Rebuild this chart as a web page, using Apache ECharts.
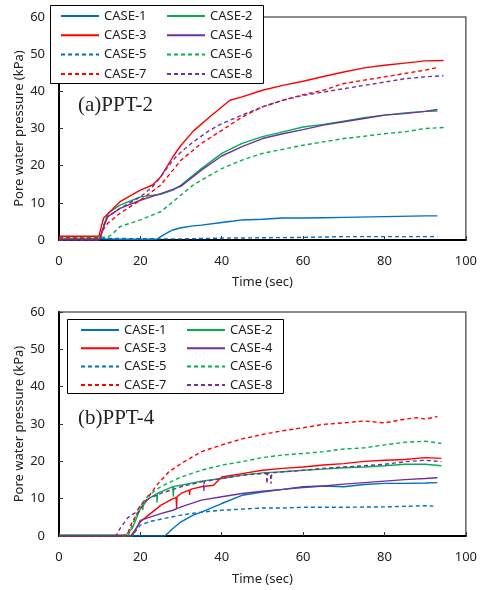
<!DOCTYPE html>
<html><head><meta charset="utf-8">
<script src="https://cdn.jsdelivr.net/npm/echarts@6/dist/echarts.min.js"></script>
<style>html,body{margin:0;padding:0;background:#fff}#c{width:480px;height:590px}</style>
</head><body><div id="c"></div>
<script>
// ---------- DATA ----------
const caseNames = ['CASE-1','CASE-2','CASE-3','CASE-4','CASE-5','CASE-6','CASE-7','CASE-8'];
const panelLabels = ['(a)PPT-2','(b)PPT-4'];
const xTicks = [0,20,40,60,80,100];
const yTicks = [0,10,20,30,40,50,60];

// (a) PPT-2  : [time (sec), pore water pressure (kPa)]
const a_case1 = [[0,0.3],[10,0.3],[15,0.2],[20,0.2],[24,0.2],[25,0.9],[27,2.2],[28,2.7],[30,3.3],[33,3.8],[35,4],[40,4.7],[43,5.1],[45,5.4],[50,5.6],[55,5.9],[60,5.9],[65,6],[70,6.1],[80,6.3],[90,6.5],[93,6.5]];
const a_case2 = [[0,0.5],[10,0.5],[10.8,3],[11.5,5.5],[12,7.2],[15,9.4],[18,10.7],[20,11.6],[25,12.3],[28,13.4],[30,14.8],[35,19.2],[40,23.3],[45,26],[50,27.8],[55,29.1],[60,30.4],[65,31.1],[70,32],[75,32.9],[80,33.6],[85,34.2],[90,34.6],[93,34.7]];
const a_case3 = [[0,1],[9.8,1],[10.5,4],[11,6],[12,7],[15,10.3],[20,13.4],[23,14.8],[25,17],[28,22.4],[30,25.5],[33,29.3],[37,33.1],[40,35.8],[42,37.6],[45,38.5],[50,40.3],[55,41.6],[60,42.7],[65,44],[70,45.2],[75,46.3],[80,47],[85,47.6],[90,48.2],[94.5,48.3]];
const a_case4 = [[0,0],[10,0],[10.8,3],[11.5,5],[12,6.3],[15,8.5],[20,10.7],[25,12.5],[28,13.6],[30,14.5],[35,18.8],[40,22.6],[45,25.1],[50,27.3],[55,28.6],[60,29.7],[65,30.9],[70,31.8],[75,32.7],[80,33.6],[85,34],[90,34.6],[93,35.1]];
const a_case5 = [[0,0.5],[10,0.5],[15,0.4],[25,0.3],[30,0.3],[40,0.5],[50,0.6],[60,0.7],[70,0.9],[93,0.9]];
const a_case6 = [[0,0.5],[12,0.8],[13,1.5],[15,3.6],[20,5.4],[25,7.6],[28,10.3],[30,12.1],[33,14.8],[35,16.1],[40,19.2],[45,21.5],[50,23.3],[55,24.4],[60,25.5],[65,26.4],[70,27.3],[75,27.9],[80,28.6],[85,29.1],[90,30],[95,30.3]];
const a_case7 = [[0,0.5],[10,0.5],[11,3],[12,4.5],[15,7.2],[20,10.7],[25,14.8],[28,18.8],[30,21.5],[35,26],[40,29.5],[45,33.1],[50,35.8],[55,37.6],[60,39.1],[65,40.3],[70,42.1],[75,43],[80,43.9],[85,44.8],[90,45.7],[93,46.4]];
const a_case8 = [[0,0],[10,0],[11,4],[12,6.3],[15,8.5],[20,11.6],[23,14.3],[25,17],[28,21.5],[30,23.7],[33,26.4],[37,29.5],[40,31.3],[45,33.6],[50,35.8],[55,37.6],[60,38.9],[65,39.8],[70,40.7],[75,41.6],[80,42.5],[85,43.4],[90,43.9],[94.5,44.2]];

// (b) PPT-4
const b_case1 = [[0,0],[26,0],[27,1],[28,2],[30,3.8],[33,5.6],[35,6.4],[40,8.7],[45,10.9],[50,11.8],[55,12.5],[60,13],[65,13.4],[70,13.2],[75,13.8],[80,14.1],[85,14.1],[90,14.2],[93,14.3]];
const b_case2 = [[0,0.3],[16.5,0.3],[18,2],[20,7.3],[20.5,8],[20.6,7],[20.7,8.2],[22,10],[24,11.3],[24.1,9],[24.2,11.4],[25,11.8],[28,13.2],[28.1,10.5],[28.2,13.3],[30,13.6],[35,14.7],[40,15.4],[45,16.3],[50,16.9],[55,17.2],[60,17.6],[65,17.9],[70,18.3],[75,18.5],[80,18.8],[85,19.2],[90,19.2],[94,18.8]];
const b_case3 = [[0,0],[17.5,0],[18,0.5],[20,3.8],[22,5.6],[25,8.2],[28,10],[28.8,10.3],[28.9,7.5],[29,10.5],[30,11.4],[32,12.3],[32.1,11],[32.2,12.4],[33,12.7],[35,13.2],[38,13.6],[40,15.8],[45,16.7],[50,17.6],[55,18.1],[60,18.5],[65,19],[70,19.4],[75,20],[80,20.3],[85,20.5],[90,21],[94,20.8]];
const b_case4 = [[0,0],[18,0],[19,2],[20,4.2],[25,6],[28,6.9],[30,7.8],[35,9.6],[40,10.5],[45,11.4],[50,12],[55,12.5],[60,13.2],[65,13.4],[70,13.9],[75,14.3],[80,14.7],[85,15.1],[90,15.4],[93,15.6]];
const b_case5 = [[0,0],[18,0],[19,1.5],[20,2.9],[22,3.8],[25,4.5],[30,5.6],[35,6.4],[40,6.9],[45,7.2],[50,7.5],[55,7.5],[60,7.7],[70,7.7],[80,7.8],[90,8.1],[92,8]];
const b_case6 = [[0,0],[17,0],[18,3],[20,8.2],[22,10.9],[25,13.2],[30,15.8],[35,17.6],[40,19],[45,19.9],[50,21],[55,21.7],[60,22.1],[65,22.6],[70,23.3],[75,23.6],[80,24.4],[85,25.1],[90,25.4],[94,24.8]];
const b_case7 = [[0,0],[16,0],[17,1],[18,3.8],[20,7.3],[22,10.5],[24,13.6],[27,17.2],[30,19.4],[35,22.6],[40,24.4],[45,26],[50,27.2],[55,28.2],[60,29],[65,29.9],[70,30.3],[75,30.8],[80,30.3],[85,31.3],[88,31.7],[90,31.3],[93,32]];
const b_case8 = [[0,0],[14,0],[15,2],[17,5],[19,6.4],[20,8.2],[22,10],[25,11.4],[30,13.2],[35,14.5],[35.5,14.6],[35.6,12],[35.7,14.6],[40,15.4],[45,16.3],[50,16.7],[51,16.8],[51.1,14],[51.3,16.8],[52,16.8],[52.1,14],[52.3,16.9],[55,17.2],[60,17.6],[65,18.1],[70,18.5],[75,18.8],[80,19.2],[85,19.9],[90,20.3],[94,19.9]];

// ---------- STYLE ----------
const colors = ['#0070C0','#00B050','#FF0000','#7030A0','#0070C0','#00B050','#FF0000','#7030A0'];
const dashed = [false,false,false,false,true,true,true,true];
const FONT = 'Noto Sans';
const panels = [
  [a_case1,a_case2,a_case3,a_case4,a_case5,a_case6,a_case7,a_case8],
  [b_case1,b_case2,b_case3,b_case4,b_case5,b_case6,b_case7,b_case8]
];
const grids = [
  {left:59, top:17, width:407, height:223},
  {left:59, top:312, width:407, height:224}
];

const series = [];
panels.forEach((pd, gi) => {
  pd.forEach((d, i) => {
    series.push({
      name: caseNames[i], type:'line', xAxisIndex: gi, yAxisIndex: gi,
      data: d, symbol:'none', showSymbol:false, animation:false,
      lineStyle:{color:colors[i], width:1.4, type: dashed[i] ? [4,3] : 'solid'},
      itemStyle:{color:colors[i]}
    });
  });
});

function axisX(gi, gap){
  return {type:'value', gridIndex:gi, min:0, max:100, interval:20,
    name:'Time (sec)', nameLocation:'middle', nameGap:gap, nameMoveOverlap:false,
    nameTextStyle:{fontFamily:FONT, fontSize:13, color:'#222'},
    axisLine:{show:true, onZero:false, lineStyle:{color:'#000', width:2}},
    axisTick:{show:true, inside:true, length:4, lineStyle:{color:'#333'}},
    axisLabel:{margin:15, fontFamily:FONT, fontSize:13, color:'#222'},
    splitLine:{show:false}};
}
function axisY(gi){
  return {type:'value', gridIndex:gi, min:0, max:60, interval:10,
    name:'Pore water pressure (kPa)', nameLocation:'middle', nameGap:33, nameMoveOverlap:false,
    nameTextStyle:{fontFamily:FONT, fontSize:13, color:'#222'},
    axisLine:{show:true, onZero:false, lineStyle:{color:'#000', width:2}},
    axisTick:{show:true, inside:true, length:4, lineStyle:{color:'#333'}},
    axisLabel:{margin:14, fontFamily:FONT, fontSize:13, color:'#222'},
    splitLine:{show:false}};
}
function legend(names, left, top, gap){
  return {orient:'vertical', left:left, top:top, padding:0, itemGap:gap,
    itemWidth:38, itemHeight:14, data:names, z:5,
    textStyle:{fontFamily:FONT, fontSize:13, color:'#222', lineHeight:14},
    itemStyle:{opacity:0, borderWidth:0},
    lineStyle:{width:2}};
}
const col1 = [caseNames[0],caseNames[2],caseNames[4],caseNames[6]];
const col2 = [caseNames[1],caseNames[3],caseNames[5],caseNames[7]];

const option = {
  backgroundColor:'#fff',
  animation:false,
  grid: grids.map(g => Object.assign({show:true, borderColor:'#666', borderWidth:1.5, backgroundColor:'transparent'}, g)),
  xAxis:[axisX(0,36), axisX(1,37)],
  yAxis:[axisY(0), axisY(1)],
  legend:[legend(col1,60,9,5.3), legend(col2,166,9,5.3), legend(col1,80,323,4.3), legend(col2,186,323,4.3)],
  graphic:[
    {type:'rect', z:3, shape:{x:50.5,y:5.5,width:213,height:78}, style:{fill:'#fff', stroke:'#000', lineWidth:1}},
    {type:'rect', z:3, shape:{x:67.5,y:319.5,width:216,height:74}, style:{fill:'#fff', stroke:'#000', lineWidth:1}},
    {type:'text', z:3, left:78, top:95, style:{text:panelLabels[0], font:'21px "Liberation Serif"', fill:'#222'}},
    {type:'text', z:3, left:78, top:408, style:{text:panelLabels[1], font:'21px "Liberation Serif"', fill:'#222'}}
  ],
  series: series
};
const chart = echarts.init(document.getElementById('c'), null, {renderer:'canvas'});
chart.setOption(option);
</script></body></html>
